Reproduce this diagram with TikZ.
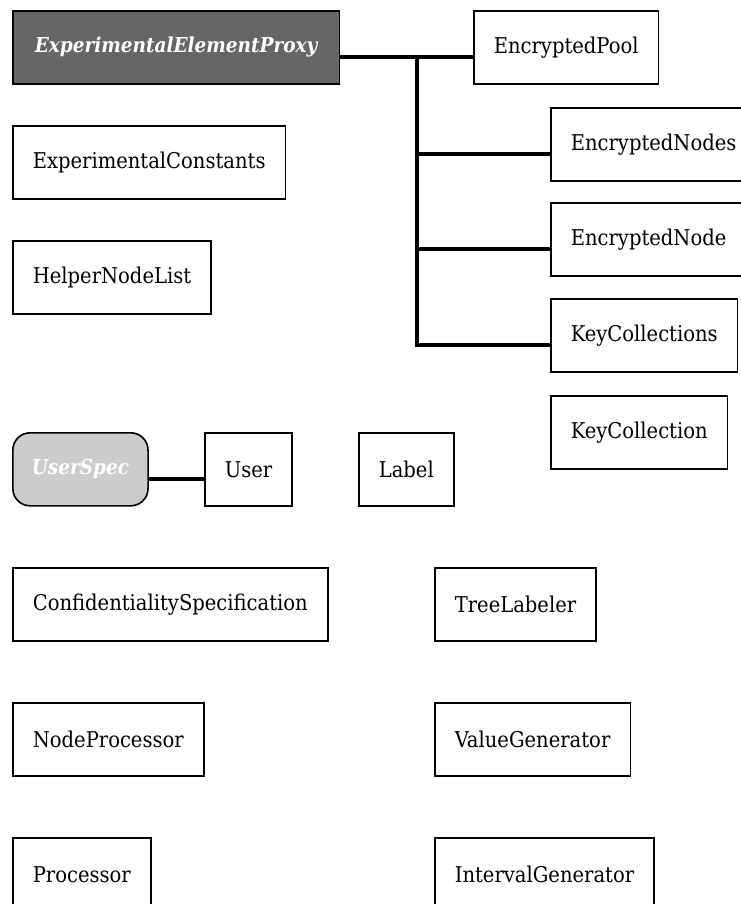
\documentclass[tikz,border=0pt]{standalone}
\usepackage{fontspec}
\setmainfont{DejaVu Serif Condensed}
\usepackage{tikz}

\definecolor{cinzaEscuro}{HTML}{666666}
\definecolor{cinzaClaro}{HTML}{CCCCCC}

\tikzset{
    caixa/.style={draw, line width=1.2pt, fill=white, anchor=north west,
        minimum height=73*0.75pt, inner xsep=20*0.75pt,
        font=\fontsize{16.3pt}{19pt}\selectfont},
    proxy/.style={caixa, fill=cinzaEscuro, text=white, inner xsep=22*0.75pt,
        font=\fontsize{15.4pt}{18pt}\selectfont\bfseries\itshape},
    espec/.style={proxy, fill=cinzaClaro, rounded corners=13pt, inner xsep=19*0.75pt},
    liga/.style={line width=3pt}
}

\begin{document}
\begin{tikzpicture}[x=0.75pt, y=-0.75pt]
    % x e y em pixels (y cresce para baixo)
    \useasboundingbox (0,0) rectangle (741,904);

    % Coluna da esquerda
    \node[proxy] (proxy) at (12,10) {ExperimentalElementProxy};
    \node[caixa] (constantes) at (12,125) {ExperimentalConstants};
    \node[caixa] (helper) at (12,240) {HelperNodeList};

    % Coluna da direita
    \node[caixa] (pool) at (473,10) {EncryptedPool};
    \node[caixa] (nodes) at (550,107) {EncryptedNodes};
    \node[caixa] (node) at (550,202) {EncryptedNode};
    \node[caixa] (keycols) at (550,298) {KeyCollections};
    \node[caixa] (keycol) at (550,395) {KeyCollection};

    % Linha do meio
    \node[espec] (userspec) at (12,432) {UserSpec};
    \node[caixa] (user) at (204,432) {User};
    \node[caixa] (label) at (358,432) {Label};

    % Parte de baixo
    \node[caixa] (confid) at (12,567) {ConfidentialitySpecification};
    \node[caixa] (treelab) at (434,567) {TreeLabeler};
    \node[caixa] (nodeproc) at (12,702) {NodeProcessor};
    \node[caixa] (valgen) at (434,702) {ValueGenerator};
    \node[caixa] (proc) at (12,837) {Processor};
    \node[caixa] (intgen) at (434,837) {IntervalGenerator};

    % Ligacoes
    \coordinate (tronco) at (417,56.5);
    \draw[liga] ([yshift=-7pt]proxy.east) -- ([yshift=-7pt]pool.west);
    \draw[liga] ([yshift=-7pt]nodes.west) -| (tronco);
    \draw[liga] ([yshift=-7pt]node.west) -| (tronco);
    \draw[liga] ([yshift=-7pt]keycols.west) -| (tronco);
    \draw[liga] ([yshift=-7pt]userspec.east) -- ([yshift=-7pt]user.west);
\end{tikzpicture}
\end{document}
